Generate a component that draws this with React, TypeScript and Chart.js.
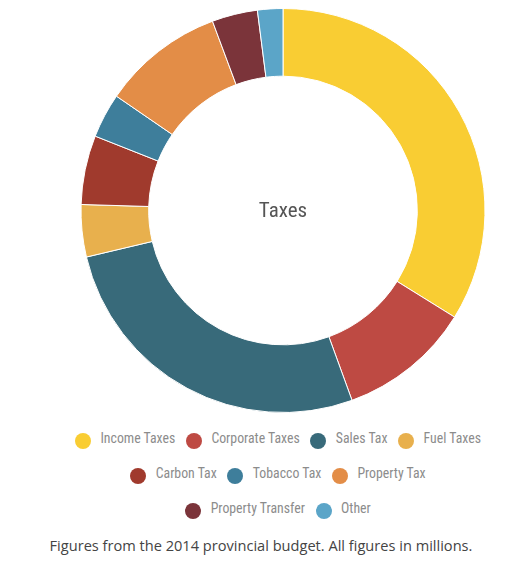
import React, { useEffect, useRef } from "react";
import { Chart, registerables } from "chart.js";

Chart.register(...registerables);

const categories = [
  "Income Taxes",
  "Corporate Taxes",
  "Sales Tax",
  "Fuel Taxes",
  "Carbon Tax",
  "Tobacco Tax",
  "Property Tax",
  "Property Transfer",
  "Other",
];

const values = [6770, 2120, 5370, 835, 1105, 715, 1950, 730, 405];

const colors = [
  "#F9CD33",
  "#BE4A43",
  "#386A7A",
  "#E8B04D",
  "#A03A2D",
  "#3E7E9B",
  "#E38D47",
  "#7B343A",
  "#5BA5C8",
];

const centerLabel = "Taxes";
const caption = "Figures from the 2014 provincial budget. All figures in millions.";
const legendRowSizes = [4, 3, 2];

const centerTextPlugin = {
  id: "centerText",
  afterDatasetsDraw(chart: any) {
    const meta = chart.getDatasetMeta(0);
    const arc = meta.data[0];
    if (!arc) return;
    const { ctx } = chart;
    ctx.save();
    ctx.font = "condensed 21px Roboto";
    ctx.fillStyle = "#555555";
    ctx.textAlign = "center";
    ctx.textBaseline = "middle";
    ctx.fillText(centerLabel, arc.x, arc.y + 1);
    ctx.restore();
  },
};

export default function App() {
  const canvasRef = useRef<HTMLCanvasElement | null>(null);

  useEffect(() => {
    if (!canvasRef.current) return;
    const chart = new Chart(canvasRef.current, {
      type: "doughnut",
      data: {
        labels: categories,
        datasets: [
          {
            data: values,
            backgroundColor: colors,
            borderColor: "#ffffff",
            borderWidth: 1,
          },
        ],
      },
      options: {
        animation: false,
        responsive: true,
        maintainAspectRatio: false,
        cutout: "66.5%",
        layout: { padding: { left: 35 } },
        plugins: {
          legend: { display: false },
          tooltip: { enabled: true },
        },
      },
      plugins: [centerTextPlugin],
    });
    return () => chart.destroy();
  }, []);

  const rows: number[][] = [];
  let idx = 0;
  for (const n of legendRowSizes) {
    const row: number[] = [];
    for (let k = 0; k < n && idx < categories.length; k++) row.push(idx++);
    rows.push(row);
  }

  return (
    <div style={{ width: 515 }}>
      <div style={{ position: "relative", height: 405, width: 515 }}>
        <canvas ref={canvasRef} />
      </div>
      <div style={{ marginTop: 7, paddingLeft: 25 }}>
        {rows.map((row, r) => (
          <div
            key={r}
            style={{
              height: 35,
              display: "flex",
              justifyContent: "center",
              alignItems: "center",
              columnGap: 10.7,
            }}
          >
            {row.map((i) => (
              <div key={i} style={{ display: "flex", alignItems: "center" }}>
                <span
                  style={{
                    display: "inline-block",
                    width: 16,
                    height: 16,
                    borderRadius: "50%",
                    background: colors[i],
                    marginRight: 9.4,
                    position: "relative",
                    top: 3,
                  }}
                />
                <span
                  style={{
                    fontFamily: "Roboto, sans-serif",
                    fontStretch: "condensed",
                    fontSize: 13.8,
                    color: "#8c8c8c",
                    lineHeight: "16px",
                    whiteSpace: "nowrap",
                  }}
                >
                  {categories[i]}
                </span>
              </div>
            ))}
          </div>
        ))}
      </div>
      <div
        style={{
          marginTop: 10,
          textAlign: "center",
          fontFamily: '"Open Sans", sans-serif',
          fontSize: 14.6,
          lineHeight: "20px",
          color: "#444444",
          paddingRight: 9,
        }}
      >
        {caption}
      </div>
    </div>
  );
}
